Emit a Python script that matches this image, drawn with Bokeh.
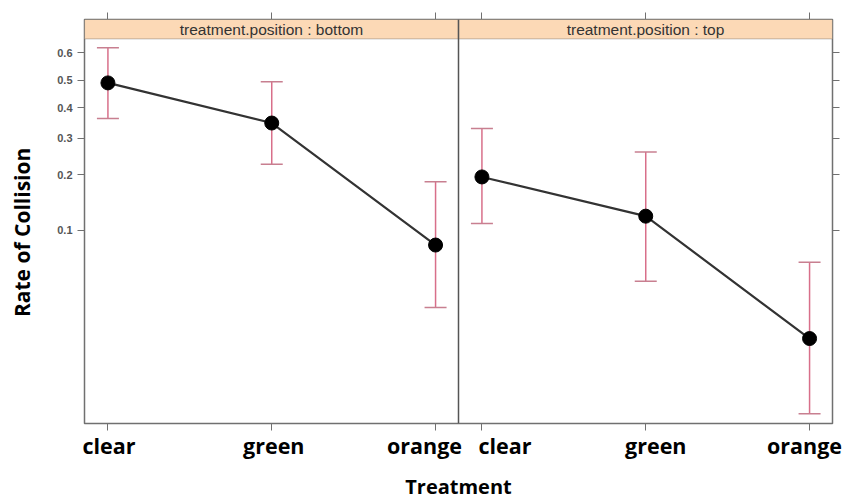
import numpy as np
from bokeh.plotting import figure
from bokeh.models import (FixedTicker, LinearAxis, Range1d, Span, BoxAnnotation,
                          Label, Whisker, ColumnDataSource, TeeHead)
from bokeh.embed import file_html
from bokeh.resources import INLINE

# ---------------- data ----------------
categories = ["clear", "green", "orange"]
panels = ["bottom", "top"]
rate_bottom = [0.49, 0.348, 0.082]
upper_bottom = [0.617, 0.494, 0.184]
lower_bottom = [0.363, 0.226, 0.0345]
rate_top = [0.195, 0.12, 0.0222]
upper_top = [0.33, 0.259, 0.065]
lower_top = [0.109, 0.050, 0.0075]
y_tick_values = [0.1, 0.2, 0.3, 0.4, 0.5, 0.6]
y_tick_labels = ["0.1", "0.2", "0.3", "0.4", "0.5", "0.6"]


def logit(p):
    p = np.asarray(p, dtype=float)
    return np.log(p / (1 - p))


# ---------------- layout constants ----------------
PAD = 0.143          # left padding of each panel (category units)
W = 2.283            # panel width (category units)
Y_LO = -5.03         # bottom of panel (logit)
Y_PANEL_TOP = 0.605  # top of data area (logit)
Y_HI = 0.889         # top of strip (logit)
FRAME_W, FRAME_H = 748, 404
x_lo = 1 - PAD
x_hi = x_lo + 2 * W
PX_X = FRAME_W / (x_hi - x_lo)       # pixels per category unit
# horizontal nudges (px) of the category labels, as placed in the reference
label_nudge = [1, 2, -11, 23, 10, -5]

p = figure(frame_width=FRAME_W, frame_height=FRAME_H, output_backend="svg",
           toolbar_location=None,
           x_range=Range1d(x_lo, x_hi), y_range=Range1d(Y_LO, Y_HI),
           min_border_left=84, min_border_right=13, min_border_top=19,
           min_border_bottom=60)
p.grid.visible = False
p.outline_line_color = "#707070"
p.outline_line_width = 1.5
p.background_fill_color = "white"
p.border_fill_color = "white"

# positions of categories in both panels
x_all = []
labels_all = []
for k in range(len(panels)):
    for i, c in enumerate(categories):
        x_all.append(i + 1 + k * W)
        labels_all.append(c)

# strips
for k, name in enumerate(panels):
    left = x_lo + k * W
    right = left + W
    p.add_layout(BoxAnnotation(left=left, right=right, bottom=Y_PANEL_TOP, top=Y_HI,
                               fill_color="#fcd9b6", fill_alpha=1.0,
                               line_color="#606060", line_width=1.2))
    p.add_layout(Label(x=(left + right) / 2, y=(Y_PANEL_TOP + Y_HI) / 2,
                       text="treatment.position : " + name, text_align="center",
                       text_baseline="middle", text_font="Liberation Sans",
                       text_font_size="15.5px", text_color="#333333"))

# divider between panels
p.add_layout(Span(location=x_lo + W, dimension="height", line_color="#555555",
                  line_width=1.5))

# series
series = [(rate_bottom, upper_bottom, lower_bottom), (rate_top, upper_top, lower_top)]
for k, (r, up, lo) in enumerate(series):
    xs = [i + 1 + k * W for i in range(len(categories))]
    src = ColumnDataSource(dict(x=xs, y=logit(r), upper=logit(up), lower=logit(lo)))
    p.add_layout(Whisker(source=src, base="x", upper="upper", lower="lower",
                         line_color="#d86f8a", line_width=1.5,
                         upper_head=TeeHead(size=22, line_color="#c87f90", line_width=1.5),
                         lower_head=TeeHead(size=22, line_color="#c87f90", line_width=1.5)))
    p.line("x", "y", source=src, line_color="#333333", line_width=2.2)
    p.scatter("x", "y", source=src, size=14, fill_color="black", line_color="black")

# axes
ticks_y = list(logit(y_tick_values))
overrides_y = {float(t): l for t, l in zip(ticks_y, y_tick_labels)}

ya = p.yaxis[0]
ya.ticker = FixedTicker(ticks=ticks_y)
ya.major_label_overrides = overrides_y
ya.axis_line_color = None
ya.major_tick_line_color = "#707070"
ya.major_tick_out = 7
ya.major_tick_in = 0
ya.minor_tick_line_color = None
ya.major_label_text_font = "Liberation Sans"
ya.major_label_text_font_size = "11px"
ya.major_label_text_font_style = "bold"
ya.major_label_text_color = "#555555"
ya.major_label_standoff = 5
ya.axis_label = "Rate of Collision\u00a0\u00a0\u00a0\u00a0"
ya.axis_label_text_font = "Open Sans"
ya.axis_label_text_font_style = "bold"
ya.axis_label_text_font_size = "21px"
ya.axis_label_text_color = "black"
ya.axis_label_standoff = 18

# bottom axis 1: tick marks only
xa = p.xaxis[0]
xa.ticker = FixedTicker(ticks=x_all)
xa.major_label_overrides = {float(x): "" for x in x_all}
xa.major_label_standoff = 0
xa.axis_line_color = None
xa.major_tick_line_color = "#707070"
xa.major_tick_out = 7
xa.major_tick_in = 0
xa.minor_tick_line_color = None

# bottom axis 2: category labels, placed like the reference's labels
label_pos = [x + dx / PX_X for x, dx in zip(x_all, label_nudge)]
xb = LinearAxis(ticker=FixedTicker(ticks=label_pos),
                major_label_overrides={float(x): l for x, l in zip(label_pos, labels_all)},
                axis_line_color=None, major_tick_line_color=None, minor_tick_line_color=None,
                major_tick_out=0, major_tick_in=0, major_label_standoff=0,
                major_label_text_font="Open Sans", major_label_text_font_style="bold",
                major_label_text_font_size="21.5px", major_label_text_color="black",
                axis_label="Treatment", axis_label_text_font="Open Sans",
                axis_label_text_font_style="bold", axis_label_text_font_size="20px",
                axis_label_text_color="black", axis_label_standoff=10)
p.add_layout(xb, "below")

top_axis = LinearAxis(ticker=FixedTicker(ticks=x_all),
                      major_label_overrides={float(x): "" for x in x_all},
                      major_label_standoff=0,
                      axis_line_color=None, major_tick_line_color="#707070",
                      major_tick_out=7, major_tick_in=0, minor_tick_line_color=None)
p.add_layout(top_axis, "above")

right_axis = LinearAxis(ticker=FixedTicker(ticks=ticks_y),
                        major_label_overrides={float(t): "" for t in ticks_y},
                        major_label_standoff=0,
                        axis_line_color=None, major_tick_line_color="#707070",
                        major_tick_out=7, major_tick_in=0, minor_tick_line_color=None)
p.add_layout(right_axis, "right")

open("out.html", "w").write(file_html(p, INLINE))
